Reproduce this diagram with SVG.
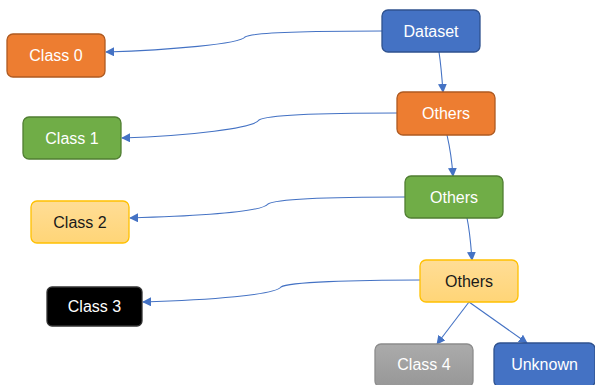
<svg xmlns="http://www.w3.org/2000/svg" width="595" height="385" viewBox="0 0 595 385">
<style>
.n rect{stroke-width:1.3}
.t{font-family:"Liberation Sans",Arial,sans-serif;font-size:16px;text-anchor:middle;dominant-baseline:central;fill:#fff}
.dark{fill:#1a1a1a}
.c path{fill:none;stroke:#4472C4;stroke-width:1.1}
</style>
<defs>
<marker id="ah" viewBox="0 0 10 10" refX="9" refY="5" markerWidth="9" markerHeight="9" markerUnits="userSpaceOnUse" orient="auto"><path d="M0,0 L10,5 L0,10 z" fill="#4472C4"/></marker>
<linearGradient id="gy" x1="0" y1="0" x2="0" y2="1"><stop offset="0" stop-color="#FFDD96"/><stop offset="1" stop-color="#FFD577"/></linearGradient>
<linearGradient id="gg" x1="0" y1="0" x2="0" y2="1"><stop offset="0" stop-color="#ABABAB"/><stop offset="1" stop-color="#979797"/></linearGradient>
</defs>
<rect width="595" height="385" fill="#fff"/>
<g class="c">
<path d="M382,31 C320,31 252,32 245,37 C240,44 170,50 106,52" marker-end="url(#ah)"/>
<path d="M397,113 C330,113 267,115 259,120 C254,128 190,136 122,138" marker-end="url(#ah)"/>
<path d="M405,197 C340,197 276,199 268,204 C262,212 200,216 130,218" marker-end="url(#ah)"/>
<path d="M420,280 C355,280 288,282 281,287 C275,295 210,300 143,302" marker-end="url(#ah)"/>
<path d="M439,52 C441,65 442,78 443,92" marker-end="url(#ah)"/>
<path d="M447,135 C450,148 452,162 453,176" marker-end="url(#ah)"/>
<path d="M467,218 C470,232 471,246 472,260" marker-end="url(#ah)"/>
<path d="M469,302 L437,344" marker-end="url(#ah)"/>
<path d="M469,302 L527,343" marker-end="url(#ah)"/>
</g>
<g id="dataset" class="n"><rect x="382" y="10" width="98" height="42" rx="6" fill="#4472C4" stroke="#2F528F"/><text class="t" x="431" y="31">Dataset</text></g>
<g id="others1" class="n"><rect x="397" y="92" width="98" height="43" rx="6" fill="#ED7D31" stroke="#AE5A21"/><text class="t" x="446" y="113.5">Others</text></g>
<g id="others2" class="n"><rect x="405" y="176" width="98" height="42" rx="6" fill="#70AD47" stroke="#507E32"/><text class="t" x="454" y="197">Others</text></g>
<g id="others3" class="n"><rect x="420" y="260" width="98" height="42" rx="6" fill="url(#gy)" stroke="#FFC000"/><text class="t dark" x="469" y="281">Others</text></g>
<g id="class0" class="n"><rect x="7" y="34" width="98" height="43" rx="6" fill="#ED7D31" stroke="#AE5A21"/><text class="t" x="56" y="55.5">Class 0</text></g>
<g id="class1" class="n"><rect x="23" y="117" width="98" height="42" rx="6" fill="#70AD47" stroke="#507E32"/><text class="t" x="72" y="138">Class 1</text></g>
<g id="class2" class="n"><rect x="31" y="201" width="98" height="42" rx="6" fill="url(#gy)" stroke="#FFC000"/><text class="t dark" x="80" y="222">Class 2</text></g>
<g id="class3" class="n"><rect x="47" y="287" width="95" height="39" rx="5" fill="#000" stroke="#333"/><text class="t" x="94.5" y="306.5">Class 3</text></g>
<g id="class4" class="n"><rect x="375" y="344" width="98" height="43" rx="6" fill="url(#gg)" stroke="#8C8C8C"/><text class="t" x="424" y="364" fill="#f2f2f2">Class 4</text></g>
<g id="unknown" class="n"><rect x="494" y="343" width="101" height="44" rx="6" fill="#4472C4" stroke="#2F528F"/><text class="t" x="544.5" y="364">Unknown</text></g>
</svg>
